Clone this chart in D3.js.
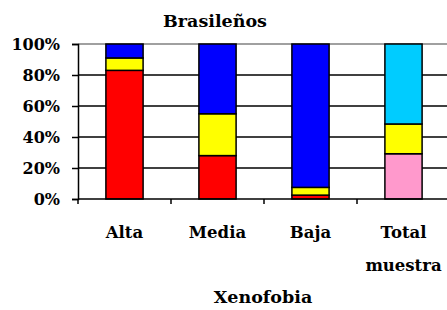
<!DOCTYPE html>
<html>
<head>
<meta charset="utf-8">
<script src="https://cdn.jsdelivr.net/npm/d3@7"></script>
<style>
  body { margin: 0; background: #fff; }
  svg text { font-family: "DejaVu Serif", "Liberation Serif", serif; font-weight: bold; }
</style>
</head>
<body>
<svg id="svg" width="447" height="310"></svg>
<script>
// chart data
const categories = ["Alta", "Media", "Baja", "Total muestra"];
const bottomVals = [83, 28, 2.5, 29.2];
const middleVals = [8, 27, 5, 19.2];
const topVals = [9, 45, 92.5, 51.6];
const bottomColors = ["#ff0000", "#ff0000", "#ff0000", "#ff99cc"];
const middleColors = ["#ffff00", "#ffff00", "#ffff00", "#ffff00"];
const topColors = ["#0000ff", "#0000ff", "#0000ff", "#00ccff"];
const yTicks = [0, 20, 40, 60, 80, 100];

const margins = { left: 78, right: -3, top: 44, bottom: 111 };
const dims = { width: 447, height: 310 };

const xScale = d3.scaleBand()
    .domain(categories)
    .range([margins.left, dims.width - margins.right])
    .paddingInner(0.6)
    .paddingOuter(0.3);
const yScale = d3.scaleLinear()
    .domain([0, 100])
    .range([dims.height - margins.bottom, margins.top]);

const mySvg = d3.select('#svg');

// gridlines
mySvg.append("g").selectAll("line")
    .data(yTicks.filter(d => d > 0))
    .enter().append("line")
    .attr("x1", margins.left).attr("x2", dims.width)
    .attr("y1", d => yScale(d)).attr("y2", d => yScale(d))
    .attr("stroke", d => d === 100 ? "#808080" : "#000")
    .attr("stroke-width", 1.5);

// stacked bars
const stacks = categories.map((c, i) => [
    { c, y0: 0, y1: bottomVals[i], fill: bottomColors[i] },
    { c, y0: bottomVals[i], y1: bottomVals[i] + middleVals[i], fill: middleColors[i] },
    { c, y0: bottomVals[i] + middleVals[i], y1: bottomVals[i] + middleVals[i] + topVals[i], fill: topColors[i] }
]).flat();

mySvg.append("g").selectAll("rect")
    .data(stacks)
    .enter().append("rect")
    .attr("x", d => xScale(d.c))
    .attr("width", xScale.bandwidth())
    .attr("y", d => yScale(Math.min(d.y1, 100)))
    .attr("height", d => yScale(d.y0) - yScale(Math.min(d.y1, 100)))
    .attr("fill", d => d.fill)
    .attr("stroke", "#000")
    .attr("stroke-width", 1.5);

// y axis
const yAxis = d3.axisLeft(yScale)
    .tickValues(yTicks)
    .tickFormat(d => d + "%")
    .tickSize(6)
    .tickPadding(12);
const yg = mySvg.append("g")
    .attr("transform", `translate(${margins.left},0)`)
    .call(yAxis);
yg.select(".domain").attr("stroke", "#000").attr("stroke-width", 1.5);
yg.selectAll(".tick line").attr("stroke-width", 1.5);
yg.selectAll("text").attr("font-size", 16).attr("fill", "#000")
    .style("font-family", "'DejaVu Serif', serif").style("font-weight", "bold");

// x axis: baseline and boundary ticks
const step = xScale.step();
const bounds = d3.range(categories.length + 1)
    .map(i => xScale(categories[0]) - step * 0.3 + i * step);
mySvg.append("line")
    .attr("x1", margins.left).attr("x2", dims.width)
    .attr("y1", yScale(0)).attr("y2", yScale(0))
    .attr("stroke", "#000").attr("stroke-width", 1.5);
mySvg.append("g").selectAll("line")
    .data(bounds)
    .enter().append("line")
    .attr("x1", d => d).attr("x2", d => d)
    .attr("y1", yScale(0)).attr("y2", yScale(0) + 5)
    .attr("stroke", "#000").attr("stroke-width", 1.5);

// category labels
const labels = mySvg.append("g").selectAll("text")
    .data(categories)
    .enter().append("text")
    .attr("text-anchor", "middle")
    .attr("font-size", 16.5)
    .attr("x", d => xScale(d) + xScale.bandwidth() / 2)
    .attr("y", 238);
labels.selectAll("tspan")
    .data(d => d.split(" "))
    .enter().append("tspan")
    .attr("x", function() { return d3.select(this.parentNode).attr("x"); })
    .attr("dy", (d, i) => i === 0 ? 0 : 33)
    .text(d => d);

// titles
mySvg.append("text")
    .attr("x", 215).attr("y", 27)
    .attr("text-anchor", "middle")
    .attr("font-size", 17.5)
    .text("Brasileños");
mySvg.append("text")
    .attr("x", 263).attr("y", 303)
    .attr("text-anchor", "middle")
    .attr("font-size", 17.5)
    .text("Xenofobia");
</script>
</body>
</html>
